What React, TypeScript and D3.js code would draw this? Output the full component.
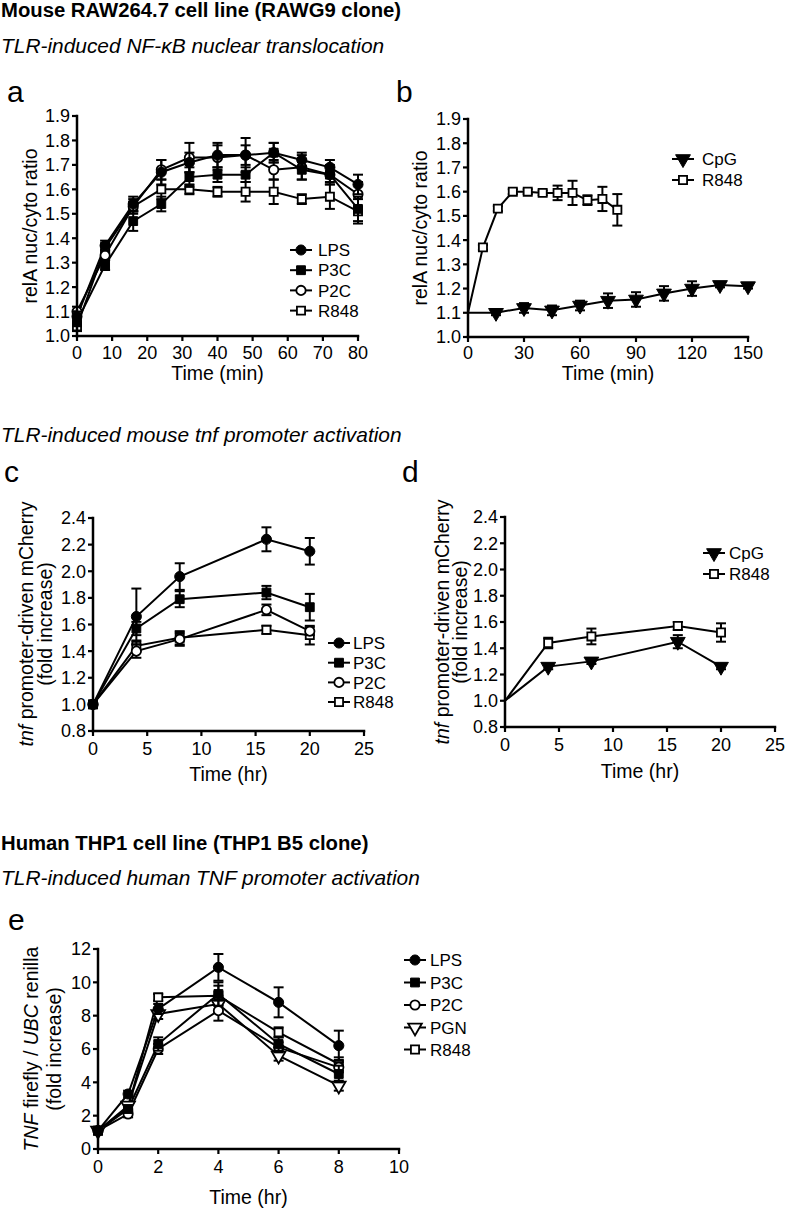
import React from "react";
import * as d3 from "d3";

const FONT = "'Liberation Sans', Arial, Helvetica, sans-serif";

// ---------------- Panel a : NF-kB translocation ----------------
const aTimes = [0, 8, 16, 24, 32, 40, 48, 56, 64, 72, 80];
const aLPS = [1.08, 1.37, 1.54, 1.67, 1.71, 1.74, 1.74, 1.75, 1.72, 1.69, 1.62];
const aLPSErr = [0.02, 0.02, 0.03, 0.05, 0.04, 0.05, 0.04, 0.04, 0.03, 0.03, 0.04];
const aP3C = [1.06, 1.29, 1.47, 1.54, 1.65, 1.66, 1.66, 1.75, 1.68, 1.66, 1.52];
const aP3CErr = [0.02, 0.02, 0.04, 0.03, 0.04, 0.03, 0.03, 0.04, 0.04, 0.03, 0.05];
const aP2C = [1.1, 1.33, 1.53, 1.68, 1.73, 1.73, 1.74, 1.68, 1.69, 1.66, 1.58];
const aP2CErr = [0.02, 0.02, 0.03, 0.04, 0.06, 0.05, 0.07, 0.04, 0.05, 0.04, 0.05];
const aR848 = [1.04, 1.36, 1.53, 1.6, 1.6, 1.59, 1.59, 1.59, 1.56, 1.57, 1.51];
const aR848Err = [0.02, 0.02, 0.02, 0.04, 0.02, 0.02, 0.04, 0.05, 0.02, 0.05, 0.05];
const aXTicks = [0, 10, 20, 30, 40, 50, 60, 70, 80];
const abYTicks = [1.0, 1.1, 1.2, 1.3, 1.4, 1.5, 1.6, 1.7, 1.8, 1.9];

// ---------------- Panel b ----------------
const bCpGTimes = [0, 15, 30, 45, 60, 75, 90, 105, 120, 135, 150];
const bCpG = [1.1, 1.1, 1.12, 1.11, 1.13, 1.15, 1.155, 1.18, 1.2, 1.215, 1.21];
const bCpGErr = [0, 0.01, 0.02, 0.02, 0.02, 0.03, 0.03, 0.03, 0.03, 0.01, 0.01];
const bR848Times = [0, 8, 16, 24, 32, 40, 48, 56, 64, 72, 80];
const bR848 = [1.1, 1.37, 1.53, 1.6, 1.6, 1.595, 1.595, 1.595, 1.565, 1.57, 1.525];
const bR848Err = [0, 0.01, 0.01, 0.01, 0.01, 0.01, 0.03, 0.05, 0.02, 0.05, 0.065];
const bXTicks = [0, 30, 60, 90, 120, 150];

// ---------------- Panel c : mouse tnf promoter ----------------
const cdTimes = [0, 4, 8, 16, 20];
const cLPS = [1.0, 1.66, 1.96, 2.24, 2.15];
const cLPSErr = [0, 0.21, 0.1, 0.09, 0.1];
const cP3C = [1.0, 1.57, 1.79, 1.84, 1.73];
const cP3CErr = [0, 0.05, 0.06, 0.05, 0.1];
const cP2C = [1.0, 1.4, 1.49, 1.71, 1.55];
const cP2CErr = [0, 0.05, 0.05, 0.04, 0.03];
const cR848 = [1.0, 1.44, 1.5, 1.56, 1.52];
const cR848Err = [0, 0.04, 0.05, 0.03, 0.07];
const cdXTicks = [0, 5, 10, 15, 20, 25];
const cdYTicks = [0.8, 1.0, 1.2, 1.4, 1.6, 1.8, 2.0, 2.2, 2.4];

// ---------------- Panel d ----------------
const dCpG = [1.0, 1.26, 1.3, 1.45, 1.26];
const dCpGErr = [0, 0.02, 0.02, 0.05, 0.02];
const dR848 = [1.0, 1.44, 1.49, 1.57, 1.52];
const dR848Err = [0, 0.04, 0.06, 0.03, 0.07];

// ---------------- Panel e : human TNF promoter ----------------
const eTimes = [0, 1, 2, 4, 6, 8];
const eLPS = [1.1, 3.3, 8.4, 10.9, 8.8, 6.2];
const eLPSErr = [0.2, 0.2, 0.3, 0.8, 0.9, 0.9];
const eP3C = [1.1, 2.4, 6.3, 9.3, 6.3, 4.5];
const eP3CErr = [0.2, 0.2, 0.4, 0.7, 0.4, 0.5];
const eP2C = [1.1, 2.1, 6.0, 8.3, 6.1, 4.9];
const eP2CErr = [0.2, 0.2, 0.3, 0.6, 0.3, 0.3];
const ePGN = [1.1, 2.6, 8.1, 8.7, 5.6, 3.8];
const ePGNErr = [0.2, 0.2, 0.3, 0.5, 0.3, 0.3];
const eR848 = [1.1, 2.5, 9.1, 9.2, 7.0, 5.1];
const eR848Err = [0.2, 0.2, 0.2, 0.6, 0.3, 0.4];
const eXTicks = [0, 2, 4, 6, 8, 10];
const eYTicks = [0, 2, 4, 6, 8, 10, 12];

type Marker = "circle" | "square" | "circleOpen" | "squareOpen" | "triDown" | "triDownOpen";
interface Series {
  name: string;
  marker: Marker;
  x: number[];
  y: number[];
  err: number[];
  skipFirst?: boolean;
}

function Sym({ m, cx, cy }: { m: Marker; cx: number; cy: number }) {
  const open = m.endsWith("Open");
  let type: any = d3.symbolCircle;
  let size = 80;
  let rot = "";
  if (m.startsWith("square")) {
    type = d3.symbolSquare;
    size = 78;
  } else if (m.startsWith("tri")) {
    type = d3.symbolTriangle;
    size = 95;
    rot = " rotate(180)";
  }
  const d = d3.symbol().type(type).size(open ? size * 0.85 : size)() as string;
  return (
    <path
      d={d}
      transform={`translate(${cx},${cy})${rot}`}
      fill={open ? "white" : "black"}
      stroke="black"
      strokeWidth={open ? 1.8 : 1}
    />
  );
}

interface PanelCfg {
  xDomain: [number, number];
  xRange: [number, number];
  yDomain: [number, number];
  yRange: [number, number];
  xTicks: number[];
  yTicks: number[];
  yFmt: (v: number) => string;
  xTickBaseline: number;
  xLabel: string;
  xLabelBaseline: number;
  series: Series[];
  legendLineX: number;
  legendTextX: number;
  legendY: number[];
}

function Panel({ cfg }: { cfg: PanelCfg }) {
  const x = d3.scaleLinear().domain(cfg.xDomain).range(cfg.xRange);
  const y = d3.scaleLinear().domain(cfg.yDomain).range(cfg.yRange);
  const line = d3
    .line<[number, number]>()
    .x((d) => x(d[0]))
    .y((d) => y(d[1]));
  const x0 = cfg.xRange[0];
  const y0 = cfg.yRange[0];
  const drawOrder = [...cfg.series].reverse();
  const tickFont = 18;
  return (
    <g fontFamily={FONT}>
      {drawOrder.map((s) => (
        <path
          key={"l" + s.name}
          d={line(s.x.map((t, i) => [t, s.y[i]] as [number, number])) as string}
          fill="none"
          stroke="black"
          strokeWidth={2}
        />
      ))}
      {drawOrder.map((s) => (
        <g key={"e" + s.name}>
          {s.x.map((t, i) =>
            s.err[i] > 0 ? (
              <g key={i} stroke="black" strokeWidth={2}>
                <line x1={x(t)} x2={x(t)} y1={y(s.y[i] - s.err[i])} y2={y(s.y[i] + s.err[i])} />
                <line x1={x(t) - 5} x2={x(t) + 5} y1={y(s.y[i] + s.err[i])} y2={y(s.y[i] + s.err[i])} />
                <line x1={x(t) - 5} x2={x(t) + 5} y1={y(s.y[i] - s.err[i])} y2={y(s.y[i] - s.err[i])} />
              </g>
            ) : null
          )}
          {s.x.map((t, i) =>
            s.skipFirst && i === 0 ? null : <Sym key={"m" + i} m={s.marker} cx={x(t)} cy={y(s.y[i])} />
          )}
        </g>
      ))}
      <line x1={x0} x2={x0} y1={cfg.yRange[1]} y2={y0} stroke="black" strokeWidth={2.5} strokeLinecap="square" />
      <line x1={x0} x2={cfg.xRange[1]} y1={y0} y2={y0} stroke="black" strokeWidth={2.5} strokeLinecap="square" />
      {cfg.yTicks.map((v) => (
        <g key={"yt" + v}>
          <line x1={x0 - 5} x2={x0} y1={y(v)} y2={y(v)} stroke="black" strokeWidth={2.2} />
          <text x={x0 - 7} y={y(v)} dy="0.36em" textAnchor="end" fontSize={tickFont}>
            {cfg.yFmt(v)}
          </text>
        </g>
      ))}
      {cfg.xTicks.map((v) => (
        <g key={"xt" + v}>
          <line x1={x(v)} x2={x(v)} y1={y0} y2={y0 + 5} stroke="black" strokeWidth={2.2} />
          <text x={x(v)} y={cfg.xTickBaseline} textAnchor="middle" fontSize={tickFont}>
            {v}
          </text>
        </g>
      ))}
      <text x={(cfg.xRange[0] + cfg.xRange[1]) / 2} y={cfg.xLabelBaseline} textAnchor="middle" fontSize={19.5}>
        {cfg.xLabel}
      </text>
      {cfg.series.map((s, i) => (
        <g key={"lg" + s.name}>
          <line
            x1={cfg.legendLineX - 11}
            x2={cfg.legendLineX + 11}
            y1={cfg.legendY[i]}
            y2={cfg.legendY[i]}
            stroke="black"
            strokeWidth={2}
          />
          <Sym m={s.marker} cx={cfg.legendLineX} cy={cfg.legendY[i]} />
          <text x={cfg.legendTextX} y={cfg.legendY[i]} dy="0.36em" fontSize={17}>
            {s.name}
          </text>
        </g>
      ))}
    </g>
  );
}

const f1 = d3.format(".1f");
const f0 = d3.format("d");

export default function App() {
  const panelA: PanelCfg = {
    xDomain: [0, 80],
    xRange: [77, 358],
    yDomain: [1.0, 1.9],
    yRange: [336, 116],
    xTicks: aXTicks,
    yTicks: abYTicks,
    yFmt: f1,
    xTickBaseline: 359,
    xLabel: "Time (min)",
    xLabelBaseline: 380,
    series: [
      { name: "LPS", marker: "circle", x: aTimes, y: aLPS, err: aLPSErr },
      { name: "P3C", marker: "square", x: aTimes, y: aP3C, err: aP3CErr },
      { name: "P2C", marker: "circleOpen", x: aTimes, y: aP2C, err: aP2CErr },
      { name: "R848", marker: "squareOpen", x: aTimes, y: aR848, err: aR848Err },
    ],
    legendLineX: 301,
    legendTextX: 318,
    legendY: [250, 270.2, 290.4, 310.6],
  };
  const panelB: PanelCfg = {
    xDomain: [0, 150],
    xRange: [468, 748],
    yDomain: [1.0, 1.9],
    yRange: [337, 119],
    xTicks: bXTicks,
    yTicks: abYTicks,
    yFmt: f1,
    xTickBaseline: 359,
    xLabel: "Time (min)",
    xLabelBaseline: 380,
    series: [
      { name: "CpG", marker: "triDown", x: bCpGTimes, y: bCpG, err: bCpGErr, skipFirst: true },
      { name: "R848", marker: "squareOpen", x: bR848Times, y: bR848, err: bR848Err, skipFirst: true },
    ],
    legendLineX: 683,
    legendTextX: 702,
    legendY: [159, 180],
  };
  const panelC: PanelCfg = {
    xDomain: [0, 25],
    xRange: [93, 364],
    yDomain: [0.8, 2.4],
    yRange: [731, 518],
    xTicks: cdXTicks,
    yTicks: cdYTicks,
    yFmt: f1,
    xTickBaseline: 755,
    xLabel: "Time (hr)",
    xLabelBaseline: 781,
    series: [
      { name: "LPS", marker: "circle", x: cdTimes, y: cLPS, err: cLPSErr },
      { name: "P3C", marker: "square", x: cdTimes, y: cP3C, err: cP3CErr },
      { name: "P2C", marker: "circleOpen", x: cdTimes, y: cP2C, err: cP2CErr },
      { name: "R848", marker: "squareOpen", x: cdTimes, y: cR848, err: cR848Err },
    ],
    legendLineX: 339,
    legendTextX: 353,
    legendY: [643, 662.7, 682.4, 702],
  };
  const panelD: PanelCfg = {
    xDomain: [0, 25],
    xRange: [505, 775],
    yDomain: [0.8, 2.4],
    yRange: [727, 517],
    xTicks: cdXTicks,
    yTicks: cdYTicks,
    yFmt: f1,
    xTickBaseline: 751,
    xLabel: "Time (hr)",
    xLabelBaseline: 778,
    series: [
      { name: "CpG", marker: "triDown", x: cdTimes, y: dCpG, err: dCpGErr, skipFirst: true },
      { name: "R848", marker: "squareOpen", x: cdTimes, y: dR848, err: dR848Err, skipFirst: true },
    ],
    legendLineX: 714,
    legendTextX: 729,
    legendY: [553, 574],
  };
  const panelE: PanelCfg = {
    xDomain: [0, 10],
    xRange: [98, 399],
    yDomain: [0, 12],
    yRange: [1149, 949],
    xTicks: eXTicks,
    yTicks: eYTicks,
    yFmt: f0,
    xTickBaseline: 1173,
    xLabel: "Time (hr)",
    xLabelBaseline: 1204,
    series: [
      { name: "LPS", marker: "circle", x: eTimes, y: eLPS, err: eLPSErr },
      { name: "P3C", marker: "square", x: eTimes, y: eP3C, err: eP3CErr },
      { name: "P2C", marker: "circleOpen", x: eTimes, y: eP2C, err: eP2CErr },
      { name: "PGN", marker: "triDownOpen", x: eTimes, y: ePGN, err: ePGNErr },
      { name: "R848", marker: "squareOpen", x: eTimes, y: eR848, err: eR848Err },
    ],
    legendLineX: 415,
    legendTextX: 430,
    legendY: [960, 982.5, 1005, 1027.5, 1049.5],
  };

  const bold = { fontFamily: FONT, fontWeight: 700, fontSize: 20.3 } as const;
  const ital = { fontFamily: FONT, fontStyle: "italic", fontSize: 20.9 } as const;
  const letter = { fontFamily: FONT, fontSize: 30 } as const;
  const axisLab = { fontFamily: FONT, fontSize: 19.5 } as const;

  return (
    <svg
      width={785}
      height={1209}
      viewBox="0 0 785 1209"
      style={{ position: "absolute", left: 0, top: 0, background: "white" }}
    >
      <rect x={0} y={0} width={785} height={1209} fill="white" />
      <text x={1} y={17} {...bold}>Mouse RAW264.7 cell line (RAWG9 clone)</text>
      <text x={1} y={53} {...ital}>TLR-induced NF-κB nuclear translocation</text>
      <text x={7} y={102} {...letter}>a</text>
      <text x={396} y={102} {...letter}>b</text>

      <text transform="translate(30,226) rotate(-90)" textAnchor="middle" dy="0.36em" {...axisLab}>
        relA nuc/cyto ratio
      </text>
      <text transform="translate(420,228) rotate(-90)" textAnchor="middle" dy="0.36em" {...axisLab}>
        relA nuc/cyto ratio
      </text>
      <Panel cfg={panelA} />
      <Panel cfg={panelB} />

      <text x={1} y={442} {...ital}>TLR-induced mouse tnf promoter activation</text>
      <text x={4} y={482} {...letter}>c</text>
      <text x={402} y={482} {...letter}>d</text>
      <text transform="translate(26,624) rotate(-90)" textAnchor="middle" dy="0.36em" {...axisLab}>
        <tspan fontStyle="italic">tnf</tspan> promoter-driven mCherry
      </text>
      <text transform="translate(45,624) rotate(-90)" textAnchor="middle" dy="0.36em" {...axisLab}>
        (fold increase)
      </text>
      <text transform="translate(442,622) rotate(-90)" textAnchor="middle" dy="0.36em" {...axisLab}>
        <tspan fontStyle="italic">tnf</tspan> promoter-driven mCherry
      </text>
      <text transform="translate(460,622) rotate(-90)" textAnchor="middle" dy="0.36em" {...axisLab}>
        (fold increase)
      </text>
      <Panel cfg={panelC} />
      <Panel cfg={panelD} />

      <text x={1} y={850} {...bold}>Human THP1 cell line (THP1 B5 clone)</text>
      <text x={1} y={885} {...ital}>TLR-induced human TNF promoter activation</text>
      <text x={8} y={930} {...letter}>e</text>
      <text transform="translate(31,1049) rotate(-90)" textAnchor="middle" dy="0.36em" {...axisLab}>
        <tspan fontStyle="italic">TNF</tspan> firefly / <tspan fontStyle="italic">UBC</tspan> renilla
      </text>
      <text transform="translate(54,1049) rotate(-90)" textAnchor="middle" dy="0.36em" {...axisLab}>
        (fold increase)
      </text>
      <Panel cfg={panelE} />
    </svg>
  );
}
